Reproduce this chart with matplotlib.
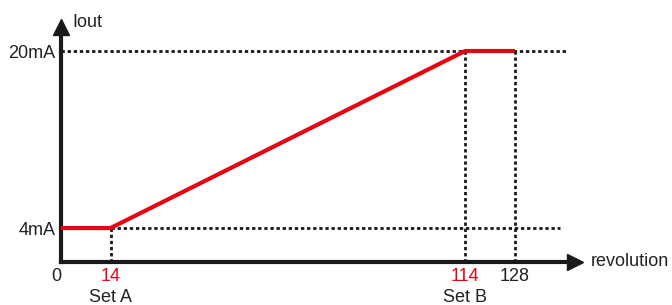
import matplotlib.pyplot as plt

plt.rcParams['font.family'] = ['Liberation Sans', 'DejaVu Sans']

# data
rev = [0, 14, 114, 128]
iout = [4, 4, 20, 20]
x_ticks = [0, 14, 114, 128]
x_labels = ["0", "14", "114", "128"]
x_label_colors = ["#222222", "#e30613", "#e30613", "#222222"]
y_ticks = [4, 20]
y_labels = ["4mA", "20mA"]
set_points = [14, 114]
set_names = ["Set A", "Set B"]

red = "#e30613"
blk = "#1a1a1a"
fs = 13

fig = plt.figure(figsize=(6.72, 3.05), dpi=100)
ax = fig.add_axes([61/672, (305-262)/305, (575-61)/672, (262-27)/305])

ax.set_xlim(0, 145)
ax.set_ylim(0.93, 22.17)

dots = (0, (1.2, 1.0))
# guide lines
ax.plot([0, 142.7], [20, 20], color=blk, lw=2, ls=dots, zorder=1)
ax.plot([14, 140.7], [4, 4], color=blk, lw=2, ls=dots, zorder=1)
for xv, yv in zip(rev[1:], iout[1:]):
    ax.plot([xv, xv], [0.93, yv], color=blk, lw=2, ls=dots, zorder=1)

# output curve
ax.plot(rev, iout, color=red, lw=3, solid_capstyle='butt', zorder=3)

# axes with arrows
for s in ["top", "right"]:
    ax.spines[s].set_visible(False)
for s in ["left", "bottom"]:
    ax.spines[s].set_linewidth(3)
    ax.spines[s].set_color(blk)
ax.plot(1, 0, ">", color=blk, ms=11, transform=ax.transAxes, clip_on=False)
ax.plot(0, 1, "^", color=blk, ms=11, transform=ax.transAxes, clip_on=False)

ax.set_xticks(x_ticks)
ax.set_xticklabels(x_labels, fontsize=fs)
for lab, c in zip(ax.get_xticklabels(), x_label_colors):
    lab.set_color(c)
ax.get_xticklabels()[0].set_horizontalalignment("right")
ax.set_yticks(y_ticks)
ax.set_yticklabels(y_labels, fontsize=fs, color="#222222")
ax.tick_params(length=0, pad=4)

for xv, name in zip(set_points, set_names):
    ax.text(xv, -0.15, name, transform=ax.get_xaxis_transform(),
            ha="center", va="center", fontsize=fs, color="#222222")

ax.annotate("Iout", xy=(0, 1), xycoords="axes fraction", xytext=(8, 3),
            textcoords="offset points", ha="left", va="center",
            fontsize=fs, color="#222222")
ax.annotate("revolution", xy=(1, 0), xycoords="axes fraction", xytext=(11, 0),
            textcoords="offset points", ha="left", va="center",
            fontsize=fs, color="#222222")

fig.savefig("out.png", dpi=100)
